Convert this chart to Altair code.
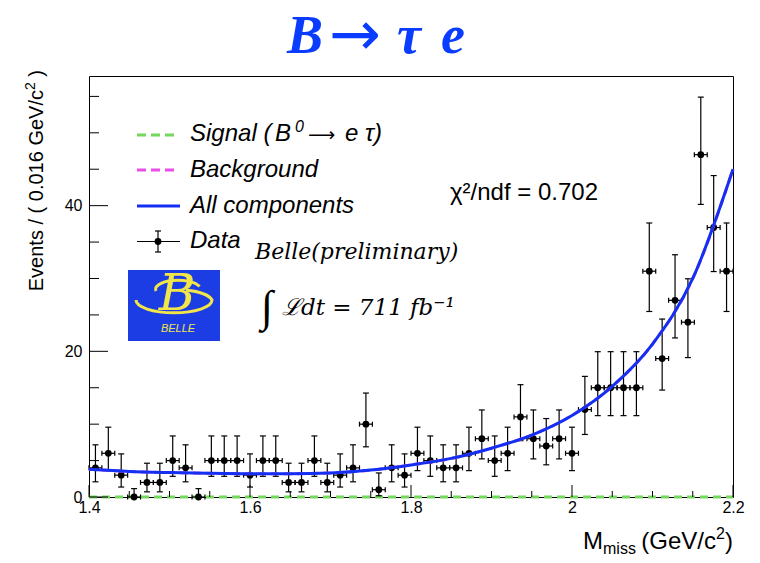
import altair as alt
import pandas as pd

# ---------------- data ----------------
BIN_CENTERS = [1.408, 1.424, 1.440, 1.456, 1.472, 1.488, 1.504, 1.520, 1.536, 1.552,
               1.568, 1.584, 1.600, 1.616, 1.632, 1.648, 1.664, 1.680, 1.696, 1.712,
               1.728, 1.744, 1.760, 1.776, 1.792, 1.808, 1.824, 1.840, 1.856, 1.872,
               1.888, 1.904, 1.920, 1.936, 1.952, 1.968, 1.984, 2.000, 2.016, 2.032,
               2.048, 2.064, 2.080, 2.096, 2.112, 2.128, 2.144, 2.160, 2.176, 2.192]
COUNTS = [4, 6, 3, 0, 2, 2, 5, 4, 0, 5,
          5, 5, 3, 5, 5, 2, 2, 5, 2, 3,
          4, 10, 1, 4, 3, 6, 5, 4, 4, 6,
          8, 5, 6, 11, 8, 7, 8, 6, 12, 15,
          15, 15, 15, 31, 19, 27, 24, 47, 37, 31]
ERR_LOW = [2.086, 3.620, 1.367, 0.0, 0.708, 0.708, 2.840, 2.086, 0.0, 2.840,
           2.840, 2.840, 1.367, 2.840, 2.840, 0.708, 0.708, 2.840, 0.708, 1.367,
           2.086, 6.891, 0.173, 2.086, 1.367, 3.620, 2.840, 2.086, 2.086, 3.620,
           5.232, 2.840, 3.620, 7.734, 5.232, 4.419, 5.232, 3.620, 8.585, 11.17,
           11.17, 11.17, 11.17, 25.47, 14.68, 21.84, 19.14, 40.17, 30.95, 25.47]
ERR_HIGH = [7.163, 9.584, 5.918, 1.148, 4.638, 4.638, 8.382, 7.163, 1.148, 8.382,
            8.382, 8.382, 5.918, 8.382, 8.382, 4.638, 4.638, 8.382, 4.638, 5.918,
            7.163, 14.27, 3.300, 7.163, 5.918, 9.584, 8.382, 7.163, 7.163, 9.584,
            11.95, 8.382, 9.584, 15.42, 11.95, 10.77, 11.95, 9.584, 16.56, 19.95,
            19.95, 19.95, 19.95, 37.62, 24.43, 33.26, 29.96, 54.90, 44.13, 37.62]
HALF_BIN = 0.008

CURVE_X = [1.40, 1.45, 1.50, 1.55, 1.60, 1.65, 1.70, 1.75, 1.80,
           1.85, 1.90, 1.95, 2.00, 2.05, 2.10, 2.15, 2.20]
CURVE_Y = [3.8, 3.5, 3.35, 3.25, 3.2, 3.2, 3.3, 3.7, 4.4,
           5.3, 6.7, 8.5, 11.2, 15.2, 21.0, 30.0, 45.0]
SIGNAL_X = [1.4, 2.2]
SIGNAL_Y = [0.0, 0.0]

X_MAJOR = [1.4, 1.6, 1.8, 2.0, 2.2]
X_MINOR = [1.45, 1.5, 1.55, 1.65, 1.7, 1.75, 1.85, 1.9, 1.95, 2.05, 2.1, 2.15]
Y_MAJOR = [0, 20, 40]
Y_MINOR = [5, 10, 15, 25, 30, 35, 45, 50, 55]

# ---------------- styling ----------------
W, H = 644, 421
BLUE = "#1330f2"
GREEN = "#74d85c"
MAGENTA = "#e84fe8"
YELLOW = "#f1e54a"
TITLE_BLUE = "#0a3cff"
SANS = "Liberation Sans"
SERIF = "Liberation Serif"
DVS = "DejaVu Sans"
DVSERIF = "DejaVu Serif"

xs = alt.Scale(domain=[1.4, 2.2], nice=False, zero=False)
ys = alt.Scale(domain=[0, 57.8], nice=False, zero=False)
xax = alt.Axis(values=X_MAJOR, format="~g", ticks=False, domain=False, grid=False,
               labelFont=SANS, labelFontSize=16, labelColor="black", labelPadding=2,
               labelFlush=False, title=None)
yax = alt.Axis(values=Y_MAJOR, format="d", ticks=False, domain=False, grid=False,
               labelFont=SANS, labelFontSize=16, labelColor="black", labelPadding=7,
               title=None)


def X(f):
    return alt.X(f, type="quantitative", scale=xs, axis=xax)


def Y(f):
    return alt.Y(f, type="quantitative", scale=ys, axis=yax)


data = pd.DataFrame({"x": BIN_CENTERS, "n": COUNTS, "lo": ERR_LOW, "hi": ERR_HIGH})
curve = pd.DataFrame({"x": CURVE_X, "y": CURVE_Y})
signal = pd.DataFrame({"x": SIGNAL_X, "y": SIGNAL_Y})

base = alt.Chart(data).transform_calculate(
    xl=f"datum.x - {HALF_BIN}", xr=f"datum.x + {HALF_BIN}")

vbar = base.mark_rule(color="black", strokeWidth=1.2).encode(x=X("x"), y=Y("lo"), y2="hi")
hbar = base.mark_rule(color="black", strokeWidth=1.2).encode(x=X("xl"), x2="xr", y=Y("n"))
cap_lo = base.mark_tick(orient="horizontal", size=6, thickness=1.2, color="black",
                        opacity=1).encode(x=X("x"), y=Y("lo"))
cap_hi = base.mark_tick(orient="horizontal", size=6, thickness=1.2, color="black",
                        opacity=1).encode(x=X("x"), y=Y("hi"))
cap_l = base.mark_tick(orient="vertical", size=5, thickness=1.2, color="black",
                       opacity=1).encode(x=X("xl"), y=Y("n"))
cap_r = base.mark_tick(orient="vertical", size=5, thickness=1.2, color="black",
                       opacity=1).encode(x=X("xr"), y=Y("n"))
pts = base.mark_point(filled=True, shape="circle", size=46, color="black",
                      opacity=1).encode(x=X("x"), y=Y("n"))

sig_line = alt.Chart(signal).mark_line(color=GREEN, strokeWidth=3,
                                       strokeDash=[8, 5]).encode(x=X("x"), y=Y("y"))
bkg_line = alt.Chart(curve).mark_line(color=MAGENTA, strokeWidth=3, strokeDash=[8, 5],
                                      interpolate="monotone").encode(x=X("x"), y=Y("y"))
all_line = alt.Chart(curve).mark_line(color=BLUE, strokeWidth=3,
                                      interpolate="monotone").encode(x=X("x"), y=Y("y"))

# inner axis ticks (ROOT style)
ytmaj = alt.Chart(pd.DataFrame({"v": Y_MAJOR})).mark_rule(color="black").encode(
    y=Y("v"), x=alt.value(0), x2=alt.value(19))
ytmin = alt.Chart(pd.DataFrame({"v": Y_MINOR})).mark_rule(color="black").encode(
    y=Y("v"), x=alt.value(0), x2=alt.value(10))
xtmaj = alt.Chart(pd.DataFrame({"v": X_MAJOR})).mark_rule(color="black").encode(
    x=X("v"), y=alt.value(H), y2=alt.value(H - 12))
xtmin = alt.Chart(pd.DataFrame({"v": X_MINOR})).mark_rule(color="black").encode(
    x=X("v"), y=alt.value(H), y2=alt.value(H - 6))

one = pd.DataFrame({"a": [0]})


def txt(s, x, y, size, font=SANS, style="normal", weight="normal", color="black",
        align="left", baseline="middle", angle=0):
    return alt.Chart(one).mark_text(text=s, font=font, fontSize=size, fontStyle=style,
                                    fontWeight=weight, color=color, align=align,
                                    baseline=baseline, angle=angle).encode(
        x=alt.value(x), y=alt.value(y))


def hline(x1, x2, y, color, width, dash=None):
    kw = dict(color=color, strokeWidth=width)
    if dash:
        kw["strokeDash"] = dash
    return alt.Chart(one).mark_rule(**kw).encode(x=alt.value(x1), x2=alt.value(x2),
                                                 y=alt.value(y))


def vline(x, y1, y2, color="black", width=1.2):
    return alt.Chart(one).mark_rule(color=color, strokeWidth=width).encode(
        x=alt.value(x), y=alt.value(y1), y2=alt.value(y2))


LEG = 24
legend = [
    hline(48, 88, 59, GREEN, 3, [9, 5]),
    txt("Signal (", 101, 58, LEG, style="italic"),
    txt("B", 186, 58, LEG, style="italic"),
    txt("0", 206, 51, 16, style="italic"),
    txt("⟶", 219, 59, 19, font=DVS),
    txt("e", 256, 58, LEG, style="italic"),
    txt("τ)", 276, 58, LEG, style="italic"),
    hline(48, 88, 94, MAGENTA, 3, [9, 5]),
    txt("Background", 101, 94, LEG, style="italic"),
    hline(48, 91, 130, BLUE, 3),
    txt("All components", 101, 130, LEG, style="italic"),
    hline(48, 91, 165.5, "black", 1.2),
    vline(69, 155, 176),
    hline(66, 72, 155, "black", 1.2),
    hline(66, 72, 176, "black", 1.2),
    alt.Chart(one).mark_point(filled=True, shape="circle", size=46, color="black",
                              opacity=1).encode(x=alt.value(69), y=alt.value(165.5)),
    txt("Data", 101, 165, LEG, style="italic"),
]

SWOOSH = "M -0.95 -0.05 A 0.95 0.32 0 0 0 0.95 -0.05 A 0.95 0.32 0 0 0 0.3 -0.3"
TOPCURL = "M -0.7 0.3 A 0.75 0.3 0 0 1 0.75 0.15"

annot = [
    txt("χ²/ndf = 0.702", 361, 117, 24),
    txt("Belle(preliminary)", 166, 176, 22, font=DVSERIF, style="italic"),
    txt("∫", 172, 232, 44, font=SERIF, style="italic"),
    txt("ℒdt = 711 fb⁻¹", 193, 232, 23, font=DVSERIF, style="italic"),
    # Belle logo
    alt.Chart(one).mark_rect(color="#1c3de4").encode(
        x=alt.value(39), x2=alt.value(131), y=alt.value(194), y2=alt.value(265)),
    alt.Chart(one).mark_point(shape=SWOOSH, filled=False, color=YELLOW, strokeWidth=3,
                              size=6400, opacity=1).encode(
        x=alt.value(85), y=alt.value(226)),
    alt.Chart(one).mark_point(shape=TOPCURL, filled=False, color=YELLOW, strokeWidth=3,
                              size=3600, opacity=1).encode(
        x=alt.value(88), y=alt.value(206)),
    txt("B", 88, 219, 50, font=DVSERIF, style="italic", color=YELLOW, align="center"),
    txt("BELLE", 89, 253, 11, style="italic", color=YELLOW, align="center"),
    # title
    txt("B", 198, -23, 54, font=SERIF, style="italic", weight="bold",
        color=TITLE_BLUE, baseline="alphabetic"),
    txt("→", 240, -21, 62, font=DVS, color=TITLE_BLUE, baseline="alphabetic"),
    txt("τ", 308, -23, 54, font=SERIF, style="italic", weight="bold",
        color=TITLE_BLUE, baseline="alphabetic"),
    txt("e", 352, -23, 54, font=SERIF, style="italic", weight="bold",
        color=TITLE_BLUE, baseline="alphabetic"),
    # y axis title
    txt(" )", -52, -6, 20, align="right", angle=270),
    txt("2", -58, 6.2, 14, align="right", angle=270),
    txt("Events / ( 0.016 GeV/c", -52, 14, 20, align="right", angle=270),
    # x axis title
    txt("M", 494, 473, 24, baseline="alphabetic"),
    txt("miss", 514, 478, 16, baseline="alphabetic"),
    txt("(GeV/c", 627, 473, 24, align="right", baseline="alphabetic"),
    txt("2", 627, 463, 16, baseline="alphabetic"),
    txt(")", 644, 473, 24, align="right", baseline="alphabetic"),
]

layers = [sig_line, vbar, hbar, cap_lo, cap_hi, cap_l, cap_r, pts, bkg_line, all_line,
          ytmaj, ytmin, xtmaj, xtmin] + legend + annot

chart = alt.layer(*layers).properties(
    width=W, height=H,
    autosize=alt.AutoSizeParams(type="none"),
    padding={"left": 81, "top": 68, "right": 19, "bottom": 58},
    background="white",
).configure_view(stroke="black", strokeWidth=1)

chart.save("out.html", embed_options={"renderer": "svg", "actions": False})
